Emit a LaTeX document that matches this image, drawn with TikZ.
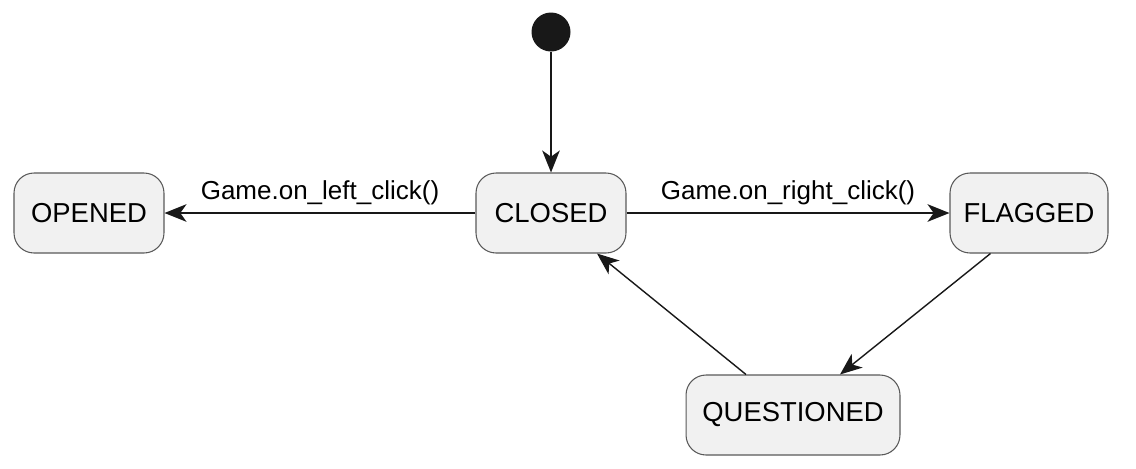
\documentclass[tikz,border=0pt]{standalone}
\usepackage{fontspec}
\setmainfont{Liberation Sans}
\usetikzlibrary{arrows.meta,calc}
\definecolor{stfill}{HTML}{F1F1F1}
\definecolor{stline}{HTML}{181818}
\tikzset{
  state/.style={draw=gray!70!black,line width=0.6pt,fill=stfill,rounded corners=0.4cm,
    minimum height=1.6cm,font=\fontsize{15.6}{18}\selectfont},
  trans/.style={draw=stline,line width=1pt,-{Stealth[length=12.5pt,width=10pt,inset=3.5pt]}},
  lbl/.style={above=1pt,font=\fontsize{14.8}{17}\selectfont}
}
\begin{document}
\begin{tikzpicture}[x=0.02cm,y=-0.02cm]
\useasboundingbox (0,0) rectangle (1136,468);
\node[circle,fill=stline,minimum size=0.78cm,inner sep=0pt](init)at(551,32){};
\node[state,minimum width=3cm](closed)at(551,213){CLOSED};
\node[state,minimum width=3cm](opened)at(89,213){OPENED};
\node[state,minimum width=3.16cm](flagged)at(1029,213){FLAGGED};
\node[state,minimum width=4.28cm](questioned)at(793,415){QUESTIONED};
% end points of the slanted transitions
\coordinate(f1)at($(flagged.south west)+(41,0)$);
\coordinate(q1)at($(questioned.north)+(47,0)$);
\coordinate(q2)at($(questioned.north)+(-47,0)$);
\coordinate(c1)at($(closed.south)+(46,0)$);
\draw[trans](init)--(closed);
\draw[trans](closed)--node[lbl]{Game.on\_left\_click()}(opened);
\draw[trans](closed)--node[lbl]{Game.on\_right\_click()}(flagged);
\draw[trans,line width=0.8pt](f1)--(q1);
\draw[trans,line width=0.8pt](q2)--(c1);
\end{tikzpicture}
\end{document}
